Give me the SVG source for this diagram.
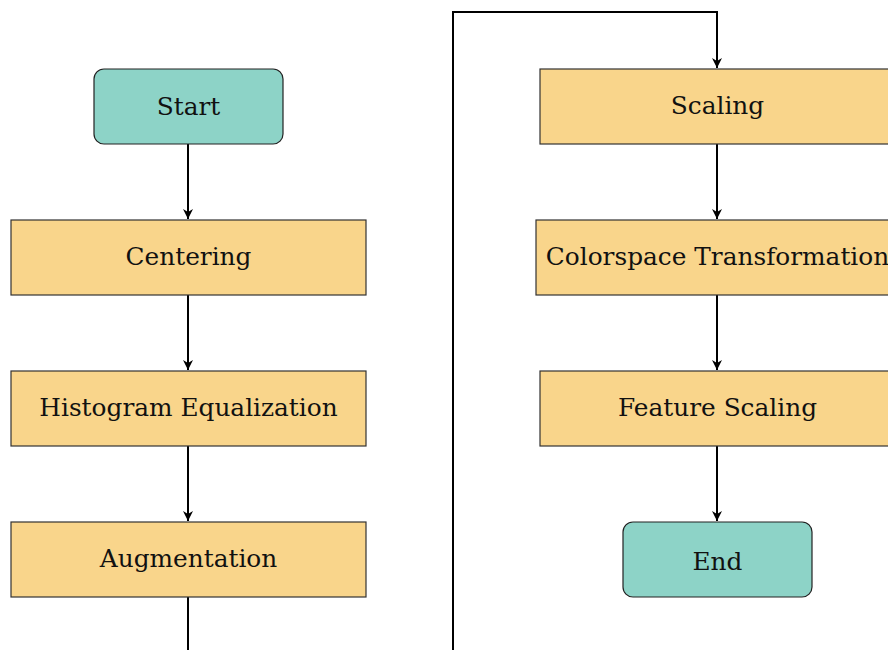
<svg xmlns="http://www.w3.org/2000/svg" width="888" height="650" viewBox="0 0 888 650">
  <style>
    .proc { fill: #f9d58b; stroke: #333; stroke-width: 1.2; }
    .term { fill: #8dd3c7; stroke: #222; stroke-width: 1.2; }
    .lbl { font-family: "DejaVu Serif", "Liberation Serif", serif; font-size: 24.8px; fill: #111; text-anchor: middle; }
    .edge { fill: none; stroke: #000; stroke-width: 2; }
  </style>
  <defs>
    <marker id="arrow" markerWidth="14" markerHeight="14" refX="11" refY="7" orient="auto" markerUnits="userSpaceOnUse">
      <path d="M1,2 L11,7 L1,12 L4,7 Z" fill="#000"/>
    </marker>
  </defs>
  <rect width="888" height="650" fill="#fff"/>

  <g id="connectors">
    <line class="edge" x1="188" y1="144" x2="188" y2="219" marker-end="url(#arrow)"/>
    <line class="edge" x1="188" y1="295" x2="188" y2="370" marker-end="url(#arrow)"/>
    <line class="edge" x1="188" y1="446" x2="188" y2="521" marker-end="url(#arrow)"/>
    <line class="edge" x1="188" y1="597" x2="188" y2="650"/>
    <polyline class="edge" points="453,650 453,12 717,12 717,68" marker-end="url(#arrow)"/>
    <line class="edge" x1="717" y1="144" x2="717" y2="219" marker-end="url(#arrow)"/>
    <line class="edge" x1="717" y1="295" x2="717" y2="370" marker-end="url(#arrow)"/>
    <line class="edge" x1="717" y1="446" x2="717" y2="521" marker-end="url(#arrow)"/>
  </g>

  <g id="start">
    <rect class="term" x="94" y="69" width="189" height="75" rx="10"/>
    <text class="lbl" x="188.5" y="115">Start</text>
  </g>
  <g id="centering">
    <rect class="proc" x="11" y="220" width="355" height="75"/>
    <text class="lbl" x="188.5" y="265">Centering</text>
  </g>
  <g id="histogram">
    <rect class="proc" x="11" y="371" width="355" height="75"/>
    <text class="lbl" x="188.5" y="416">Histogram Equalization</text>
  </g>
  <g id="augmentation">
    <rect class="proc" x="11" y="522" width="355" height="75"/>
    <text class="lbl" x="188.5" y="567">Augmentation</text>
  </g>
  <g id="scaling">
    <rect class="proc" x="540" y="69" width="355" height="75"/>
    <text class="lbl" x="717.5" y="114">Scaling</text>
  </g>
  <g id="colorspace">
    <rect class="proc" x="536" y="220" width="363" height="75"/>
    <text class="lbl" x="717.5" y="265">Colorspace Transformation</text>
  </g>
  <g id="feature-scaling">
    <rect class="proc" x="540" y="371" width="355" height="75"/>
    <text class="lbl" x="717.5" y="416">Feature Scaling</text>
  </g>
  <g id="end">
    <rect class="term" x="623" y="522" width="189" height="75" rx="10"/>
    <text class="lbl" x="717.5" y="570">End</text>
  </g>
</svg>
